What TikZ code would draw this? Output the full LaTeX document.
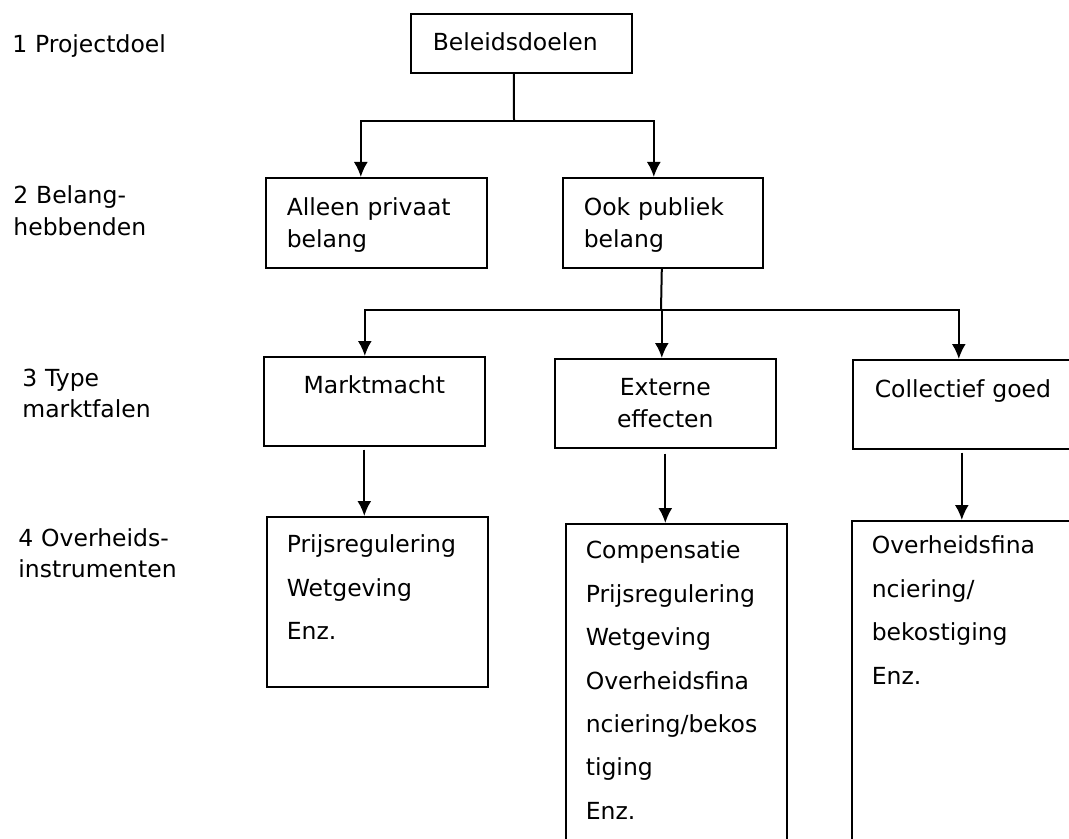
\documentclass[tikz,border=0pt]{standalone}
\usepackage{fontspec}
\setmainfont{DejaVu Sans}
\usepackage{tikz}
\usetikzlibrary{arrows.meta, calc, positioning}

\tikzset{
  box/.style={draw, line width=0.8pt, rectangle, anchor=north west,
    inner ysep=0pt, align=left},
  arr/.style={->, line width=1pt},
  lijn/.style={line width=1pt},
  niveau/.style={anchor=base west, inner sep=0pt, text width=100pt, align=left},
  tekst/.style={font=\fontsize{11.75}{15.75}\selectfont},
  lijst/.style={font=\fontsize{11.75}{21.7}\selectfont}
}

\begin{document}
\begin{tikzpicture}[x=0.5pt, y=-0.5pt, >={Latex[length=7.5pt,width=7pt]}, tekst]
    \path[use as bounding box, clip] (0,0) rectangle (1069,839);

    % Niveaus links
    \node[niveau] (n1) at (12,53) {1 Projectdoel};
    \node[niveau] (n2) at (13,204) {2 Belang-\\hebbenden};
    \node[niveau] (n3) at (22,386) {3 Type\\marktfalen};
    \node[niveau] (n4) at (18,546) {4 Overheids-\\instrumenten};

    % Niveau 1
    \node[box, inner xsep=11pt, text width=88.5pt, text height=18.5pt, text depth=11pt]
        (bel) at (410,13) {Beleidsdoelen};

    % Niveau 2
    \node[box, inner xsep=10.5pt, text width=89.5pt, text height=19pt, text depth=26pt]
        (priv) at (265,177) {Alleen privaat\\belang};
    \node[box, inner xsep=10.5pt, text width=79pt, text height=19pt, text depth=26pt]
        (publ) at (562,177) {Ook publiek\\belang};

    % Niveau 3
    \node[box, align=center, inner xsep=10.5pt, text width=89.5pt, text height=18.5pt, text depth=26pt]
        (mm) at (263,356) {Marktmacht};
    \node[box, align=center, inner xsep=10.5pt, text width=89.5pt, text height=18.5pt, text depth=26pt]
        (ext) at (554,358) {Externe\\effecten};
    \node[box, inner xsep=11pt, text width=97pt, text height=19pt, text depth=25.5pt]
        (coll) at (852,359) {Collectief goed};

    % Niveau 4
    \node[box, lijst, inner xsep=10pt, text width=90.5pt, text height=18pt, text depth=67pt]
        (ins1) at (266,516) {Prijsregulering\\Wetgeving\\Enz.};
    \node[box, lijst, inner xsep=10pt, text width=90.5pt, text height=17.5pt, text depth=146pt]
        (ins2) at (565,523) {Compensatie\\Prijsregulering\\Wetgeving\\Overheidsfina\\nciering/bekos\\tiging\\Enz.};
    \node[box, lijst, inner xsep=10pt, text width=99.5pt, text height=16.5pt, text depth=165pt]
        (ins3) at (851,520) {Overheidsfina\\nciering/\\bekostiging\\Enz.};

    % Verbindingen
    \coordinate (split1) at (514,121);
    \draw[lijn] ([xshift=-3.75pt]bel.south) -- (split1);
    \draw[arr] (split1) -| ([xshift=-7.75pt]priv.north);
    \draw[arr] (split1) -| ([xshift=-4.5pt]publ.north);

    \coordinate (split2) at (661,310);
    \draw[lijn] ([xshift=-0.5pt]publ.south) -- (split2);
    \draw[arr] (split2) -| ([xshift=-4.75pt]mm.north);
    \draw[arr] (split2) -| ([xshift=-1.75pt]ext.north);
    \draw[arr] (split2) -| ([xshift=-6.5pt]coll.north);

    \draw[arr, shorten <=1.5pt] ([xshift=-5pt]mm.south) -- ([xshift=-5pt]mm.south |- ins1.north);
    \draw[arr, shorten <=2.5pt] (ext.south) -- (ext.south |- ins2.north);
    \draw[arr, shorten <=1.5pt] ([xshift=-5pt]coll.south) -- ([xshift=-5pt]coll.south |- ins3.north);
\end{tikzpicture}
\end{document}
